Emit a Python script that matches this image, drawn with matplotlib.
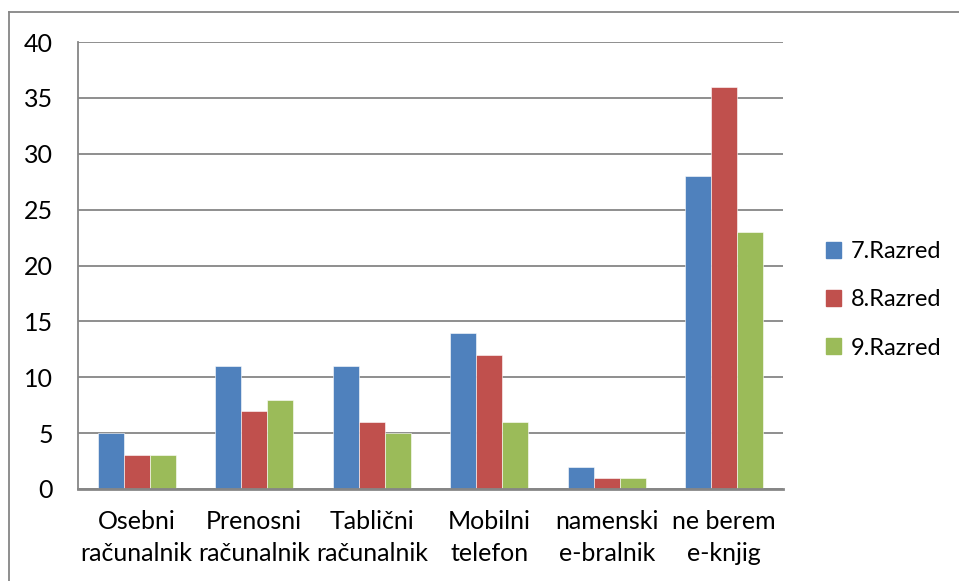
import matplotlib
matplotlib.use("Agg")
import matplotlib.pyplot as plt
import numpy as np
from matplotlib.lines import Line2D
from matplotlib.patches import Patch

categories = ["Osebni\nračunalnik", "Prenosni\nračunalnik", "Tablični\nračunalnik",
              "Mobilni\ntelefon", "namenski\ne-bralnik", "ne berem\ne-knjig"]
series_names = ["7.Razred", "8.Razred", "9.Razred"]
r7 = [5, 11, 11, 14, 2, 28]
r8 = [3, 7, 6, 12, 1, 36]
r9 = [3, 8, 5, 6, 1, 23]
yticks = [0, 5, 10, 15, 20, 25, 30, 35, 40]

colors = ["#4F81BD", "#C0504D", "#9BBB59"]
plt.rcParams['font.family'] = ['Lato', 'DejaVu Sans']
FS = 18
LFS = 17

W, H = 959, 581
fig = plt.figure(figsize=(W / 100, H / 100), dpi=100)
ax = fig.add_axes([78 / W, 1 - 489 / H, (783 - 78) / W, (489 - 42) / H])

x = np.arange(len(categories))
bw = 1 / 4.5
for i, (vals, name) in enumerate(zip([r7, r8, r9], series_names)):
    ax.bar(x + (i - 1) * bw, vals, width=bw, color=colors[i], label=name,
           zorder=3, edgecolor='white', linewidth=0.4)

ax.set_xlim(-0.5, len(categories) - 0.5)
ax.set_ylim(0, 40)
ax.set_yticks(yticks)
ax.set_yticklabels([str(v) for v in yticks], fontsize=FS)
ax.set_xticks(x)
ax.set_xticklabels(categories, fontsize=FS, linespacing=1.5)
ax.tick_params(axis='both', length=0, colors='#000000')
ax.tick_params(axis='y', pad=18)
ax.tick_params(axis='x', pad=15)
ax.yaxis.grid(True, color='#868686', linewidth=1.3, zorder=0)
for s in ['top', 'right']:
    ax.spines[s].set_visible(False)
ax.spines['left'].set_color('#868686')
ax.spines['left'].set_linewidth(1.3)
ax.spines['bottom'].set_color('#868686')
ax.spines['bottom'].set_linewidth(2)
ax.spines['bottom'].set_zorder(4)

leg = fig.legend(handles=[Patch(color=c, label=n) for c, n in zip(colors, series_names)],
                 loc='center left', bbox_to_anchor=(826 / W, 1 - 300 / H), frameon=False,
                 fontsize=LFS, handlelength=0.65, handleheight=0.65, handletextpad=0.4,
                 labelspacing=1.15, borderaxespad=0, borderpad=0)

# outer chart border (top and left visible)
fig.add_artist(Line2D([9 / W, 9 / W], [0, 1 - 12 / H], transform=fig.transFigure,
                      color='#868686', linewidth=1.3))
fig.add_artist(Line2D([9 / W, 1], [1 - 12 / H, 1 - 12 / H], transform=fig.transFigure,
                      color='#868686', linewidth=1.3))

fig.savefig("out.png", dpi=100)
